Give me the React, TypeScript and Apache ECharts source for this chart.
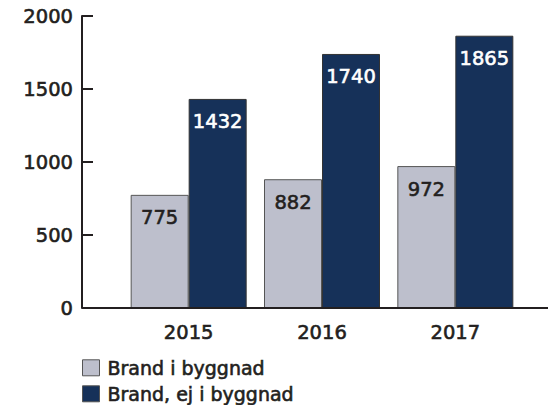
import React, { useEffect, useRef } from "react";
import * as echarts from "echarts";

const categories = ["2015", "2016", "2017"];
const brandIByggnad = [775, 882, 972];
const brandEjIByggnad = [1432, 1740, 1865];
const seriesNames = ["Brand i byggnad", "Brand, ej i byggnad"];

const FONT = "'DejaVu Sans', sans-serif";
const TEXT = "#231f20";
const bold = (color: string) => ({ textBorderColor: color, textBorderWidth: 0.6 });

export default function App() {
  const ref = useRef<HTMLDivElement>(null);
  useEffect(() => {
    const chart = echarts.init(ref.current!, undefined, { renderer: "svg" });
    const legendBase = {
      orient: "horizontal",
      left: 77,
      itemWidth: 17,
      itemHeight: 16,
      icon: "rect",
      itemStyle: { borderColor: "#555555", borderWidth: 1 },
      textStyle: { fontFamily: FONT, fontSize: 19, color: TEXT, padding: [0, 0, 0, 3], ...bold(TEXT) },
    };
    chart.setOption({
      animation: false,
      grid: { left: 122, right: 26, top: 16, bottom: 97 },
      legend: [
        { ...legendBase, top: 353, data: [seriesNames[0]] },
        { ...legendBase, top: 379, data: [seriesNames[1]] },
      ],
      xAxis: {
        type: "category",
        data: categories,
        axisLine: { show: false },
        axisTick: { show: false },
        axisLabel: { fontFamily: FONT, fontSize: 19.5, color: TEXT, margin: 14, ...bold(TEXT) },
      },
      yAxis: {
        type: "value",
        min: 0,
        max: 2000,
        interval: 500,
        offset: 40,
        splitLine: { show: false },
        axisLine: { show: true, lineStyle: { color: TEXT, width: 2 } },
        axisTick: { show: true, inside: true, length: 11, lineStyle: { color: TEXT, width: 2 } },
        axisLabel: {
          fontFamily: FONT,
          fontSize: 19.5,
          color: TEXT,
          margin: 9,
          ...bold(TEXT),
          formatter: (v: number) => String(v),
        },
      },
      graphic: [
        {
          type: "line",
          shape: { x1: 82, y1: 308, x2: 548, y2: 308 },
          style: { stroke: TEXT, lineWidth: 2 },
          z: 10,
        },
      ],
      series: [
        {
          name: seriesNames[0],
          type: "bar",
          data: brandIByggnad,
          barWidth: 58,
          barGap: "0%",
          itemStyle: { color: "#bdbfcc", borderColor: "#555555", borderWidth: 1 },
          label: {
            show: true,
            position: "insideTop",
            distance: 13,
            fontFamily: FONT,
            fontSize: 19.5,
            color: TEXT,
            ...bold(TEXT),
          },
        },
        {
          name: seriesNames[1],
          type: "bar",
          data: brandEjIByggnad,
          barWidth: 58,
          itemStyle: { color: "#163159", borderColor: "#333333", borderWidth: 1 },
          label: {
            show: true,
            position: "insideTop",
            distance: 13,
            fontFamily: FONT,
            fontSize: 19.5,
            color: "#ffffff",
            ...bold("#ffffff"),
          },
        },
      ],
    });
    return () => chart.dispose();
  }, []);
  return <div ref={ref} style={{ width: 548, height: 405, position: "absolute", left: 0, top: 0 }} />;
}
